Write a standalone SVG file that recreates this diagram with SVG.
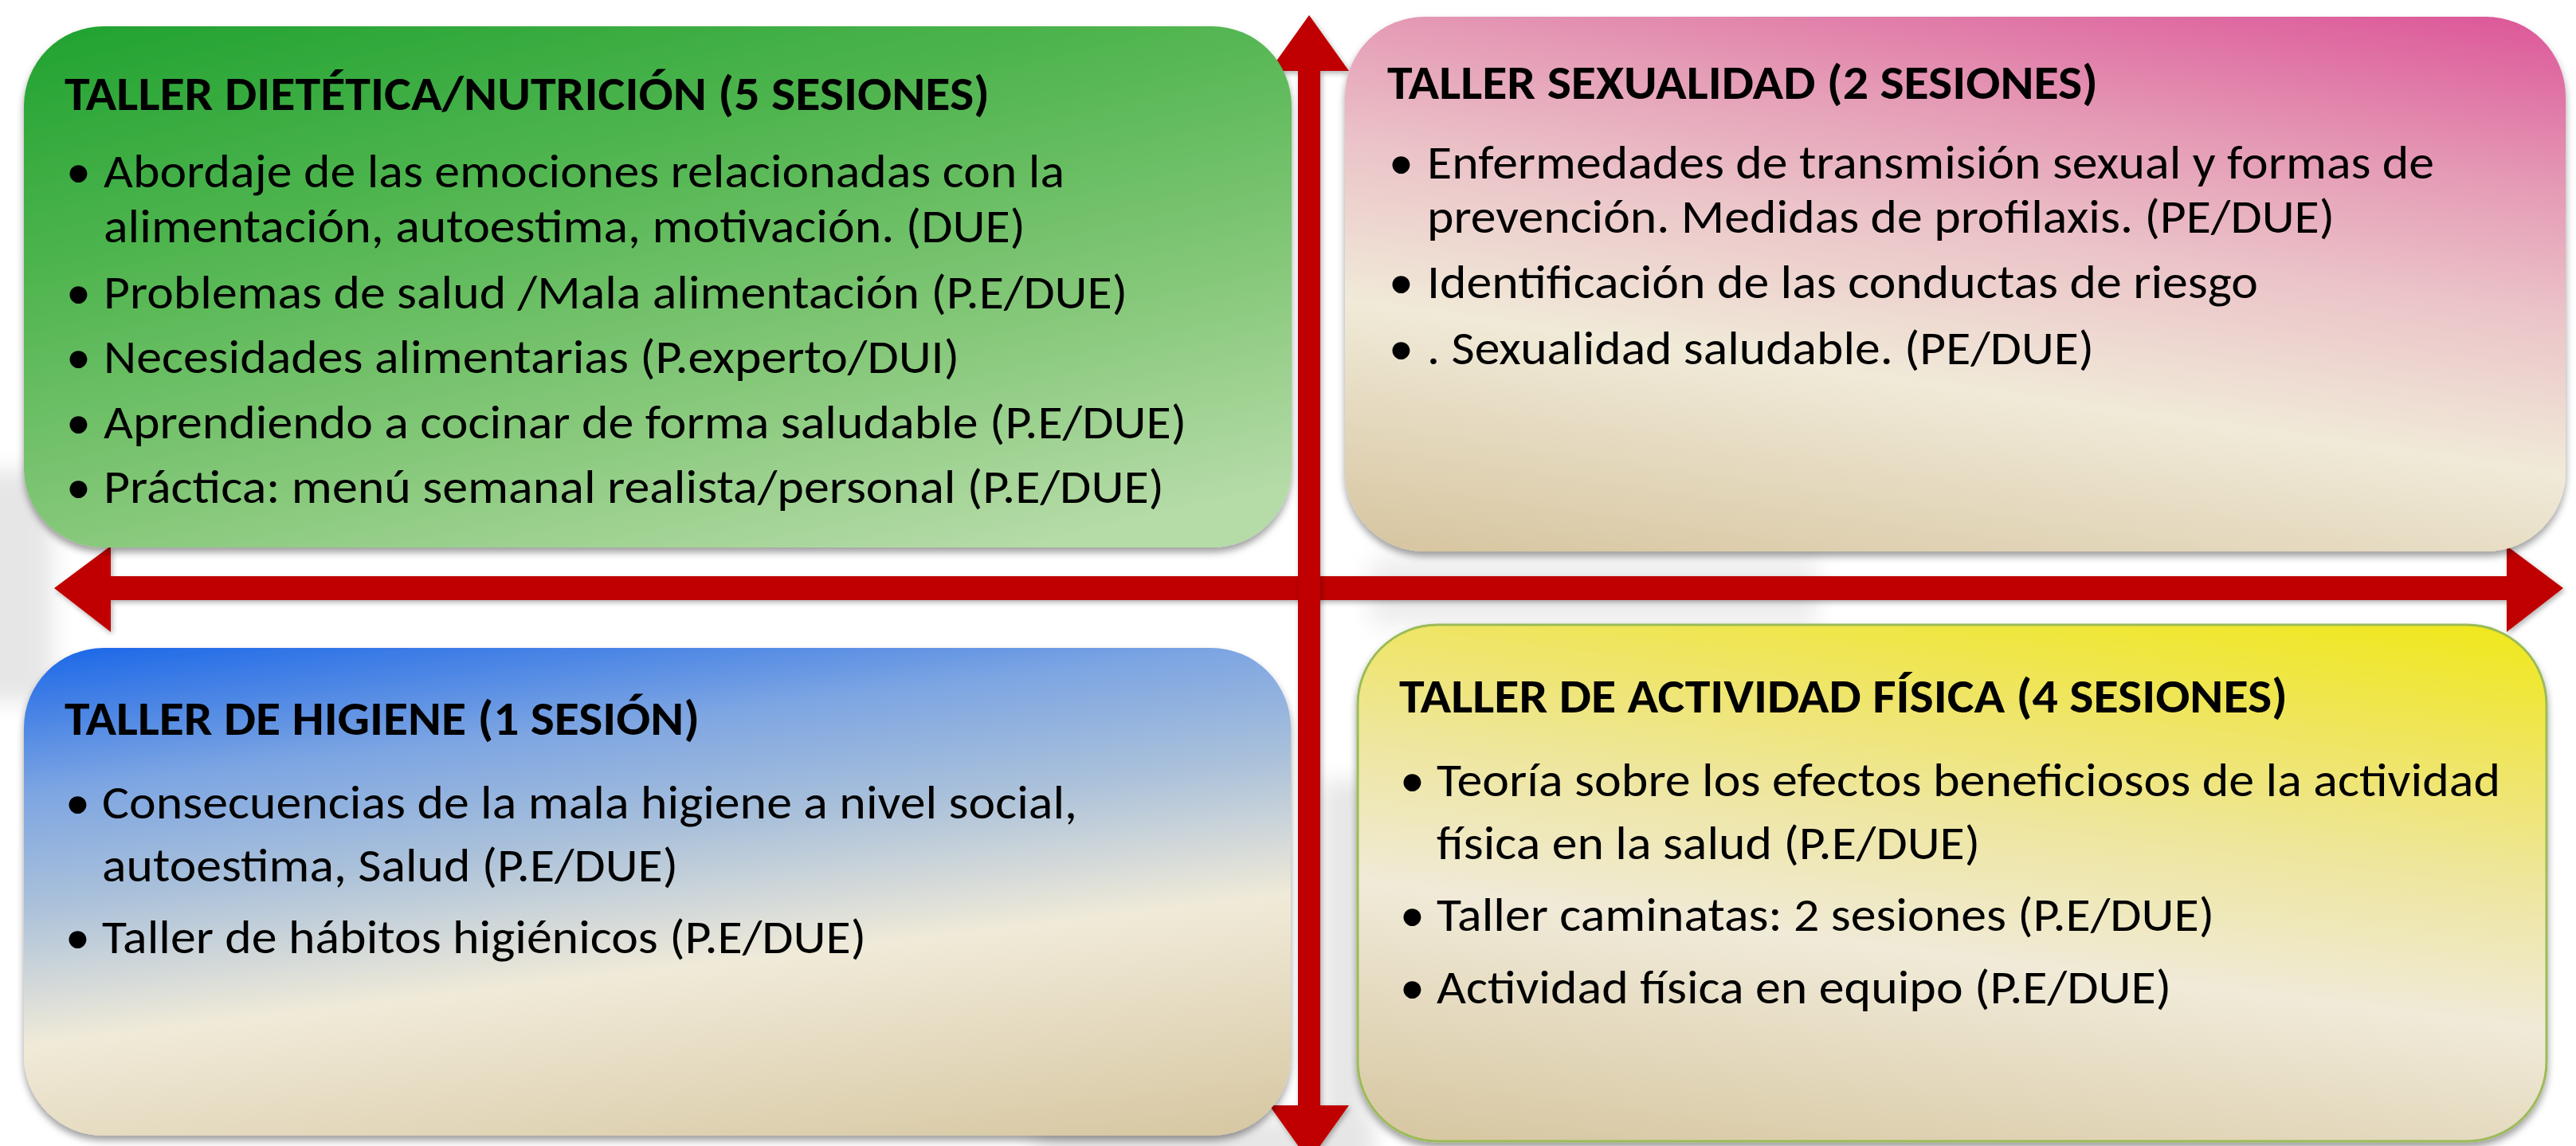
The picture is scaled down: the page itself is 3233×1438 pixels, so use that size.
<svg xmlns="http://www.w3.org/2000/svg" width="3233" height="1438" viewBox="0 0 3233 1438">
<style>
.t{font-family:Carlito,'Liberation Sans Narrow','Liberation Sans',sans-serif;font-size:60px;fill:#000}
.h{font-weight:bold}
.b{font-size:62px}
.box{filter:url(#sh)}
.arr{fill:#c00000;filter:url(#ash)}
.bg{fill:#e6e6e6;filter:url(#blur)}
</style>
<defs>
<filter id="sh" x="-5%" y="-5%" width="110%" height="115%">
<feDropShadow dx="0" dy="6" stdDeviation="5" flood-color="#000" flood-opacity="0.38"/>
</filter>
<filter id="ash" x="-5%" y="-5%" width="110%" height="110%">
<feDropShadow dx="2" dy="3" stdDeviation="3" flood-color="#000" flood-opacity="0.3"/>
</filter>
<filter id="blur" x="-50%" y="-50%" width="200%" height="200%">
<feGaussianBlur stdDeviation="14"/>
</filter>
<linearGradient id="gGreen" x1="0" y1="0" x2="0.6" y2="1.1">
<stop offset="0" stop-color="#20a230"/>
<stop offset="0.38" stop-color="#55b753"/>
<stop offset="0.7" stop-color="#86c87a"/>
<stop offset="1" stop-color="#b5dba7"/>
</linearGradient>
<linearGradient id="gPink" x1="1" y1="0" x2="0.609" y2="1.2">
<stop offset="0" stop-color="#dc5598"/>
<stop offset="0.25" stop-color="#e59cb6"/>
<stop offset="0.42" stop-color="#ebc3c8"/>
<stop offset="0.645" stop-color="#f0ead8"/>
<stop offset="1" stop-color="#d6c49e"/>
</linearGradient>
<linearGradient id="gBlue" x1="0" y1="0" x2="0.37" y2="1.2">
<stop offset="0" stop-color="#1a66e8"/>
<stop offset="0.23" stop-color="#7ea6e2"/>
<stop offset="0.4" stop-color="#a9c0da"/>
<stop offset="0.62" stop-color="#f0ead8"/>
<stop offset="1" stop-color="#d6c6a0"/>
</linearGradient>
<linearGradient id="gYellow" x1="1" y1="0" x2="0.655" y2="1.19">
<stop offset="0" stop-color="#f0e818"/>
<stop offset="0.22" stop-color="#efe565"/>
<stop offset="0.4" stop-color="#eee6a0"/>
<stop offset="0.61" stop-color="#f0ead8"/>
<stop offset="1" stop-color="#d6c6a0"/>
</linearGradient>
</defs>
<rect x="0" y="0" width="3233" height="1438" fill="#ffffff"/>
<g id="background">
<rect class="bg" x="-30" y="590" width="95" height="290"/>
<rect class="bg" x="1660" y="980" width="55" height="480"/>
<rect class="bg" x="1300" y="1405" width="420" height="60"/>
<rect class="bg" x="1720" y="700" width="560" height="85" style="fill:#ededed"/>
</g>
<g id="connectors">
<path class="arr" d="M68,738 L139,685 L139,723 L3146,723 L3146,685 L3217,738 L3146,793 L3146,753 L139,753 L139,793 Z"/>
<path class="arr" d="M1643,19 L1693,89 L1657,89 L1657,1387 L1693,1387 L1643,1457 L1593,1387 L1629,1387 L1629,89 L1593,89 Z"/>
</g>
<g id="node-nutricion">
<rect class="box" x="30" y="33" width="1591" height="654" rx="100" ry="100" fill="url(#gGreen)"/>
<text class="t h" x="81" y="138" textLength="1161" lengthAdjust="spacingAndGlyphs">TALLER DIETÉTICA/NUTRICIÓN (5 SESIONES)</text>
<text class="t b" x="83" y="235">•</text>
<text class="t" x="130" y="235" textLength="1206" lengthAdjust="spacingAndGlyphs">Abordaje de las emociones relacionadas con la</text>
<text class="t" x="130" y="304" textLength="1157" lengthAdjust="spacingAndGlyphs">alimentación, autoestima, motivación. (DUE)</text>
<text class="t b" x="83" y="387">•</text>
<text class="t" x="130" y="387" textLength="1285" lengthAdjust="spacingAndGlyphs">Problemas de salud /Mala alimentación (P.E/DUE)</text>
<text class="t b" x="83" y="468">•</text>
<text class="t" x="130" y="468" textLength="1074" lengthAdjust="spacingAndGlyphs">Necesidades alimentarias (P.experto/DUI)</text>
<text class="t b" x="83" y="550">•</text>
<text class="t" x="130" y="550" textLength="1359" lengthAdjust="spacingAndGlyphs">Aprendiendo a cocinar de forma saludable (P.E/DUE)</text>
<text class="t b" x="83" y="631">•</text>
<text class="t" x="130" y="631" textLength="1331" lengthAdjust="spacingAndGlyphs">Práctica: menú semanal realista/personal (P.E/DUE)</text>
</g>
<g id="node-sexualidad">
<rect class="box" x="1688" y="21" width="1532" height="671" rx="100" ry="100" fill="url(#gPink)"/>
<text class="t h" x="1741" y="124" textLength="892" lengthAdjust="spacingAndGlyphs">TALLER SEXUALIDAD (2 SESIONES)</text>
<text class="t b" x="1743" y="224">•</text>
<text class="t" x="1791" y="224" textLength="1264" lengthAdjust="spacingAndGlyphs">Enfermedades de transmisión sexual y formas de</text>
<text class="t" x="1791" y="292" textLength="1139" lengthAdjust="spacingAndGlyphs">prevención. Medidas de profilaxis. (PE/DUE)</text>
<text class="t b" x="1743" y="374">•</text>
<text class="t" x="1791" y="374" textLength="1043" lengthAdjust="spacingAndGlyphs">Identificación de las conductas de riesgo</text>
<text class="t b" x="1743" y="457">•</text>
<text class="t" x="1791" y="457" textLength="837" lengthAdjust="spacingAndGlyphs">. Sexualidad saludable. (PE/DUE)</text>
</g>
<g id="node-higiene">
<rect class="box" x="30" y="813" width="1590" height="612" rx="100" ry="100" fill="url(#gBlue)"/>
<text class="t h" x="81" y="922" textLength="797" lengthAdjust="spacingAndGlyphs">TALLER DE HIGIENE (1 SESIÓN)</text>
<text class="t b" x="82" y="1027">•</text>
<text class="t" x="128" y="1027" textLength="1224" lengthAdjust="spacingAndGlyphs">Consecuencias de la mala higiene a nivel social,</text>
<text class="t" x="128" y="1106" textLength="723" lengthAdjust="spacingAndGlyphs">autoestima, Salud (P.E/DUE)</text>
<text class="t b" x="82" y="1196">•</text>
<text class="t" x="128" y="1196" textLength="959" lengthAdjust="spacingAndGlyphs">Taller de hábitos higiénicos (P.E/DUE)</text>
</g>
<g id="node-actividad">
<rect class="box" x="1704" y="784" width="1492" height="648" rx="100" ry="100" fill="url(#gYellow)" stroke="#9bbb59" stroke-width="3"/>
<text class="t h" x="1756" y="894" textLength="1115" lengthAdjust="spacingAndGlyphs">TALLER DE ACTIVIDAD FÍSICA (4 SESIONES)</text>
<text class="t b" x="1757" y="999">•</text>
<text class="t" x="1803" y="999" textLength="1335" lengthAdjust="spacingAndGlyphs">Teoría sobre los efectos beneficiosos de la actividad</text>
<text class="t" x="1803" y="1078" textLength="682" lengthAdjust="spacingAndGlyphs">física en la salud (P.E/DUE)</text>
<text class="t b" x="1757" y="1168">•</text>
<text class="t" x="1803" y="1168" textLength="976" lengthAdjust="spacingAndGlyphs">Taller caminatas: 2 sesiones (P.E/DUE)</text>
<text class="t b" x="1757" y="1259">•</text>
<text class="t" x="1803" y="1259" textLength="922" lengthAdjust="spacingAndGlyphs">Actividad física en equipo (P.E/DUE)</text>
</g>
</svg>
